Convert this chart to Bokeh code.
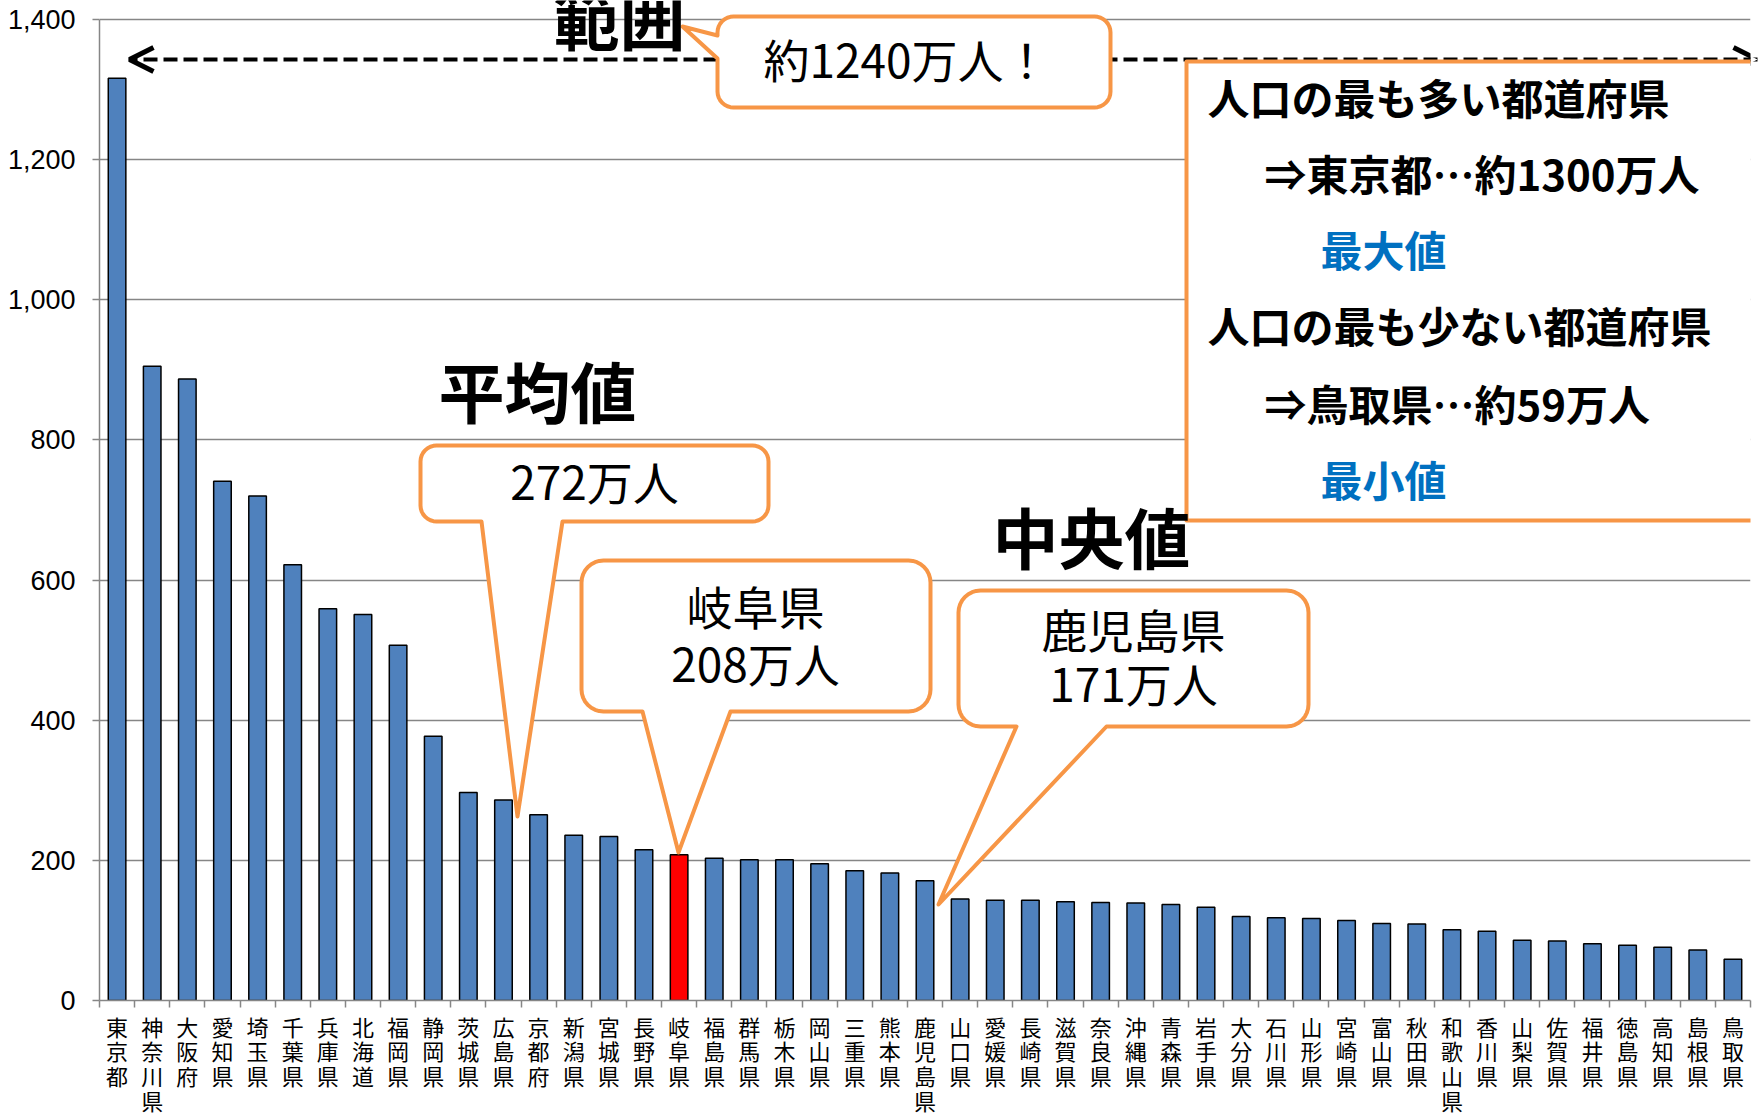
import math
from bokeh.plotting import figure
from bokeh.models import (Range1d, FixedTicker, NumeralTickFormatter, Label,
                          PolyAnnotation, Arrow, OpenHead, ColumnDataSource)
from bokeh.embed import file_html
from bokeh.resources import INLINE

# ---------------- data ----------------
prefectures = ["東京都", "神奈川県", "大阪府", "愛知県", "埼玉県", "千葉県", "兵庫県", "北海道",
               "福岡県", "静岡県", "茨城県", "広島県", "京都府", "新潟県", "宮城県", "長野県",
               "岐阜県", "福島県", "群馬県", "栃木県", "岡山県", "三重県", "熊本県", "鹿児島県",
               "山口県", "愛媛県", "長崎県", "滋賀県", "奈良県", "沖縄県", "青森県", "岩手県",
               "大分県", "石川県", "山形県", "宮崎県", "富山県", "秋田県", "和歌山県", "香川県",
               "山梨県", "佐賀県", "福井県", "徳島県", "高知県", "島根県", "鳥取県"]
population = [1316, 905, 887, 741, 720, 622, 559, 551, 507, 377, 297, 286, 265, 236, 234, 215,
              208, 203, 201, 201, 195, 185, 182, 171, 145, 143, 143, 141, 140, 139, 137, 133,
              120, 118, 117, 114, 110, 109, 101, 99, 86, 85, 81, 79, 76, 72, 59]
highlight = "岐阜県"
y_ticks = [0, 200, 400, 600, 800, 1000, 1200, 1400]

range_text = "約1240万人！"
mean_text = "272万人"
gifu_text = ["岐阜県", "208万人"]
median_text = ["鹿児島県", "171万人"]
box_lines = ["人口の最も多い都道府県", "⇒東京都…約1300万人", "最大値",
             "人口の最も少ない都道府県", "⇒鳥取県…約59万人", "最小値"]

BAR = "#4F81BD"
RED = "#FF0000"
ORANGE = "#F79646"
GRID = "#868686"
BLUE = "#0070C0"
JP = "Noto Sans CJK JP"

n = len(prefectures)
xs = list(range(n))
colors = [RED if p == highlight else BAR for p in prefectures]
src = ColumnDataSource(dict(x=xs, top=population, color=colors))

W, H = 1761, 1116
# plot area in page pixels: y=1400 at FT, y=0 at FB
FL, FR, FT, FB = 99, 1750, 19, 1000
Y_MAX = y_ticks[-1]
PX_PER_UNIT = (FB - FT) / Y_MAX
y_top = FB / PX_PER_UNIT   # frame reaches the page top so annotations there are not clipped

p = figure(frame_width=FR - FL, frame_height=FB,
           x_range=Range1d(-0.5, n - 0.5), y_range=Range1d(0, y_top),
           output_backend="svg", toolbar_location=None, title=None,
           min_border_left=FL, min_border_right=W - FR,
           min_border_top=0, min_border_bottom=H - FB)
p.outline_line_color = None
p.background_fill_color = "white"
p.border_fill_color = "white"

p.vbar(x="x", top="top", width=0.5, fill_color="color", line_color="black",
       line_width=1.5, source=src)

# grid
p.xgrid.visible = False
p.ygrid.ticker = FixedTicker(ticks=y_ticks)
p.ygrid.grid_line_color = GRID
p.ygrid.grid_line_width = 1.5

# y axis
ya = p.yaxis[0]
ya.ticker = FixedTicker(ticks=y_ticks)
ya.bounds = (0, Y_MAX)
ya.formatter = NumeralTickFormatter(format="0,0")
ya.axis_line_color = GRID
ya.axis_line_width = 1.5
ya.major_tick_line_color = GRID
ya.major_tick_line_width = 1.5
ya.major_tick_out = 7
ya.major_tick_in = 0
ya.minor_tick_line_color = None
ya.major_label_text_font = "Liberation Sans"
ya.major_label_text_font_size = "27px"
ya.major_label_text_color = "black"
ya.major_label_standoff = 17

# x axis
xa = p.xaxis[0]
xa.ticker = FixedTicker(ticks=xs, minor_ticks=[i - 0.5 for i in range(n + 1)])
xa.major_label_overrides = {i: "\n".join(name) for i, name in enumerate(prefectures)}
xa.axis_line_color = GRID
xa.axis_line_width = 1.5
xa.major_tick_line_color = None
xa.major_tick_out = 0
xa.major_tick_in = 0
xa.minor_tick_line_color = GRID
xa.minor_tick_line_width = 1.5
xa.minor_tick_out = 7
xa.minor_tick_in = 0
xa.major_label_text_font = JP
xa.major_label_text_font_size = "22px"
xa.major_label_text_line_height = 0.78
xa.major_label_text_color = "black"
xa.major_label_standoff = 2


# ------------- helpers: page pixel -> data -------------
def dx(px):
    return -0.5 + (px - FL) / ((FR - FL) / n)


def dy(py):
    return (FB - py) / PX_PER_UNIT


def callout(x0, y0, x1, y1, r, side=None, base=None, tip=None, k=8):
    pts = []

    def arc(cx, cy, a0, a1):
        if r == 0:
            pts.append((cx, cy))
            return
        for j in range(k + 1):
            a = math.radians(a0 + (a1 - a0) * j / k)
            pts.append((cx + r * math.cos(a), cy + r * math.sin(a)))

    arc(x0 + r, y0 + r, 180, 270)
    arc(x1 - r, y0 + r, 270, 360)
    arc(x1 - r, y1 - r, 0, 90)
    if side == "bottom":
        pts += [(base[1], y1), tip, (base[0], y1)]
    arc(x0 + r, y1 - r, 90, 180)
    if side == "left":
        pts += [(x0, base[1]), tip, (x0, base[0])]
    return [dx(a) for a, b in pts], [dy(b) for a, b in pts]


def add_shape(xs_, ys_):
    p.add_layout(PolyAnnotation(xs=xs_, ys=ys_, fill_color="white", fill_alpha=1,
                                line_color=ORANGE, line_alpha=1, line_width=4,
                                line_join="round"))


def add_text(px, py, text, size, bold=False, color="black", align="center"):
    p.add_layout(Label(x=dx(px), y=dy(py - 5), text=text, text_font=JP,
                       text_font_size=f"{size}px",
                       text_font_style="bold" if bold else "normal",
                       text_color=color, text_align=align, text_baseline="middle"))


# ------------- range arrow -------------
p.add_layout(Arrow(x_start=dx(1757), y_start=dy(59), x_end=dx(129), y_end=dy(59),
                   line_color="black", line_width=4, line_dash="14 6",
                   start=OpenHead(size=24, line_width=5, line_color="black"),
                   end=OpenHead(size=24, line_width=5, line_color="black")))

# ------------- callouts -------------
add_shape(*callout(717, 16, 1110, 107, 16, side="left", base=(35, 58), tip=(682, 26)))
add_text(906, 62, range_text, 46)

add_shape(*callout(420, 445, 768, 521, 16, side="bottom", base=(481, 562), tip=(517, 816)))
add_text(594, 484, mean_text, 46)

add_shape(*callout(581, 560, 930, 711, 22, side="bottom", base=(642, 730), tip=(678, 852)))
add_text(755, 609, gifu_text[0], 46)
add_text(755, 666, gifu_text[1], 46)

add_shape(*callout(958, 590, 1308, 726, 22, side="bottom", base=(1016, 1106), tip=(938, 904)))
add_text(1133, 632, median_text[0], 46)
add_text(1133, 686, median_text[1], 46)

# right info box
add_shape(*callout(1186, 61, 1820, 520, 0))
box_pos = [(1207, 101, "black"), (1264, 177, "black"), (1320, 253, BLUE),
           (1207, 329, "black"), (1264, 407, "black"), (1320, 483, BLUE)]
for (bx, by, col), t in zip(box_pos, box_lines):
    add_text(bx, by, t, 42, bold=True, color=col, align="left")

# headings
add_text(619, 20, "範囲", 66, bold=True)
add_text(537, 393, "平均値", 66, bold=True)
add_text(1091, 539, "中央値", 66, bold=True)

open("out.html", "w").write(file_html(p, INLINE))
